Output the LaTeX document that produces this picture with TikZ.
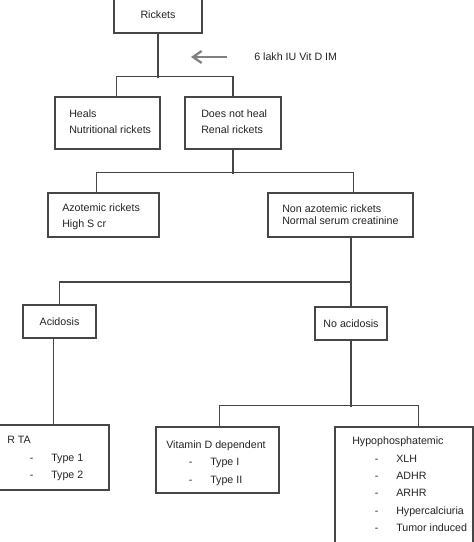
\documentclass[tikz,border=0pt]{standalone}
\usepackage{fontspec}
\setmainfont{Liberation Sans}
\usetikzlibrary{arrows.meta,positioning}
\definecolor{boxgray}{RGB}{70,70,70}
\definecolor{arrowgray}{RGB}{128,128,128}
\definecolor{textgray}{RGB}{35,35,35}
\newcommand{\dashitem}[1]{\hspace*{17pt}\makebox[16pt][l]{-}#1}

\begin{document}
\begin{tikzpicture}[
    x=0.75pt, y=-0.75pt,
    every node/.style={font=\fontsize{8}{12}\selectfont, text=textgray},
    box/.style={draw=boxgray, line width=0.9pt, inner sep=0pt},
    txt/.style={anchor=west, align=left, inner sep=0pt},
    link/.style={draw=boxgray, line width=0.9pt},
    dosearrow/.style={draw=arrowgray, line width=1.7pt, -{Straight Barb[length=6.5pt,width=9pt]}}
]
\useasboundingbox (0,0) rectangle (474,542);

% Rickets and vitamin D trial
\node[box, minimum width=66pt, minimum height=27pt] (rickets) at (158,15) {Rickets};
\node[txt] (dose) at (254,57) {6 lakh IU Vit D IM};
\coordinate (tip) at (191,57);

% Response
\node[box, minimum width=78.75pt, minimum height=39pt] (heals) at (107.5,123) {};
\node[txt] (healsT) at (69,122) {Heals\\Nutritional rickets};
\node[box, minimum width=72pt, minimum height=39pt] (notheal) at (233,123) {};
\node[txt] (nothealT) at (201,122) {Does not heal\\Renal rickets};

% Renal rickets
\node[box, minimum width=83.25pt, minimum height=33pt] (azot) at (103.5,215) {};
\node[txt] (azotT) at (62,217) {Azotemic rickets\\High S cr};
\node[box, minimum width=108.75pt, minimum height=33pt] (nonazot) at (340.5,215) {};
\node[txt] (nonazotT) at (282,215) {Non azotemic rickets\\[-3pt]Normal serum creatinine};

% Acid-base
\node[box, minimum width=54.75pt, minimum height=24.75pt] (acid) at (59.5,321.5) {Acidosis};
\node[box, minimum width=54pt, minimum height=24.75pt] (noacid) at (351,323.5) {No acidosis};
\coordinate (j3) at (351,282);

% Final groups
\node[box, minimum width=83.25pt, minimum height=48.75pt] (rta) at (53.5,457.5) {};
\node[txt, font=\fontsize{8}{13}\selectfont] (rtaT) at (7,458.5) {R TA\\\dashitem{Type 1}\\\dashitem{Type 2}};
\node[box, minimum width=92.25pt, minimum height=49.5pt] (vitd) at (217.5,460) {};
\node[txt, font=\fontsize{8}{13}\selectfont] (vitdT) at (166,463) {Vitamin D dependent\\\dashitem{Type I}\\\dashitem{Type II}};
\node[box, minimum width=103.5pt, minimum height=93.75pt] (hypo) at (404,489.5) {};
\node[txt, font=\fontsize{8}{13}\selectfont] (hypoT) at (352,484.5) {Hypophosphatemic\\\dashitem{XLH}\\\dashitem{ADHR}\\\dashitem{ARHR}\\\dashitem{Hypercalciuria}\\\dashitem{Tumor induced}};

% Connections
\draw[link] (rickets.south) -- ++(0,44);
\draw[link] ([xshift=7]heals.north) -- ++(0,-20) -| (notheal.north);
\draw[dosearrow] ([xshift=-20]dose.west) -- (tip);
\draw[link] (notheal.south) -- ++(0,24);
\draw[link] ([xshift=-5.5]azot.north) -- ++(0,-20) -| ([xshift=9.5]nonazot.north);
\draw[link] (nonazot.south -| noacid.north) -- (noacid.north);
\draw[link] (acid.north) |- (j3);
\draw[link] ([xshift=-4.5]acid.south) -- ++(0,87);
\draw[link] (noacid.south) -- ++(0,66);
\draw[link] ([xshift=1.5]vitd.north) -- ++(0,-21) -| ([xshift=11]hypo.north);

\end{tikzpicture}
\end{document}
